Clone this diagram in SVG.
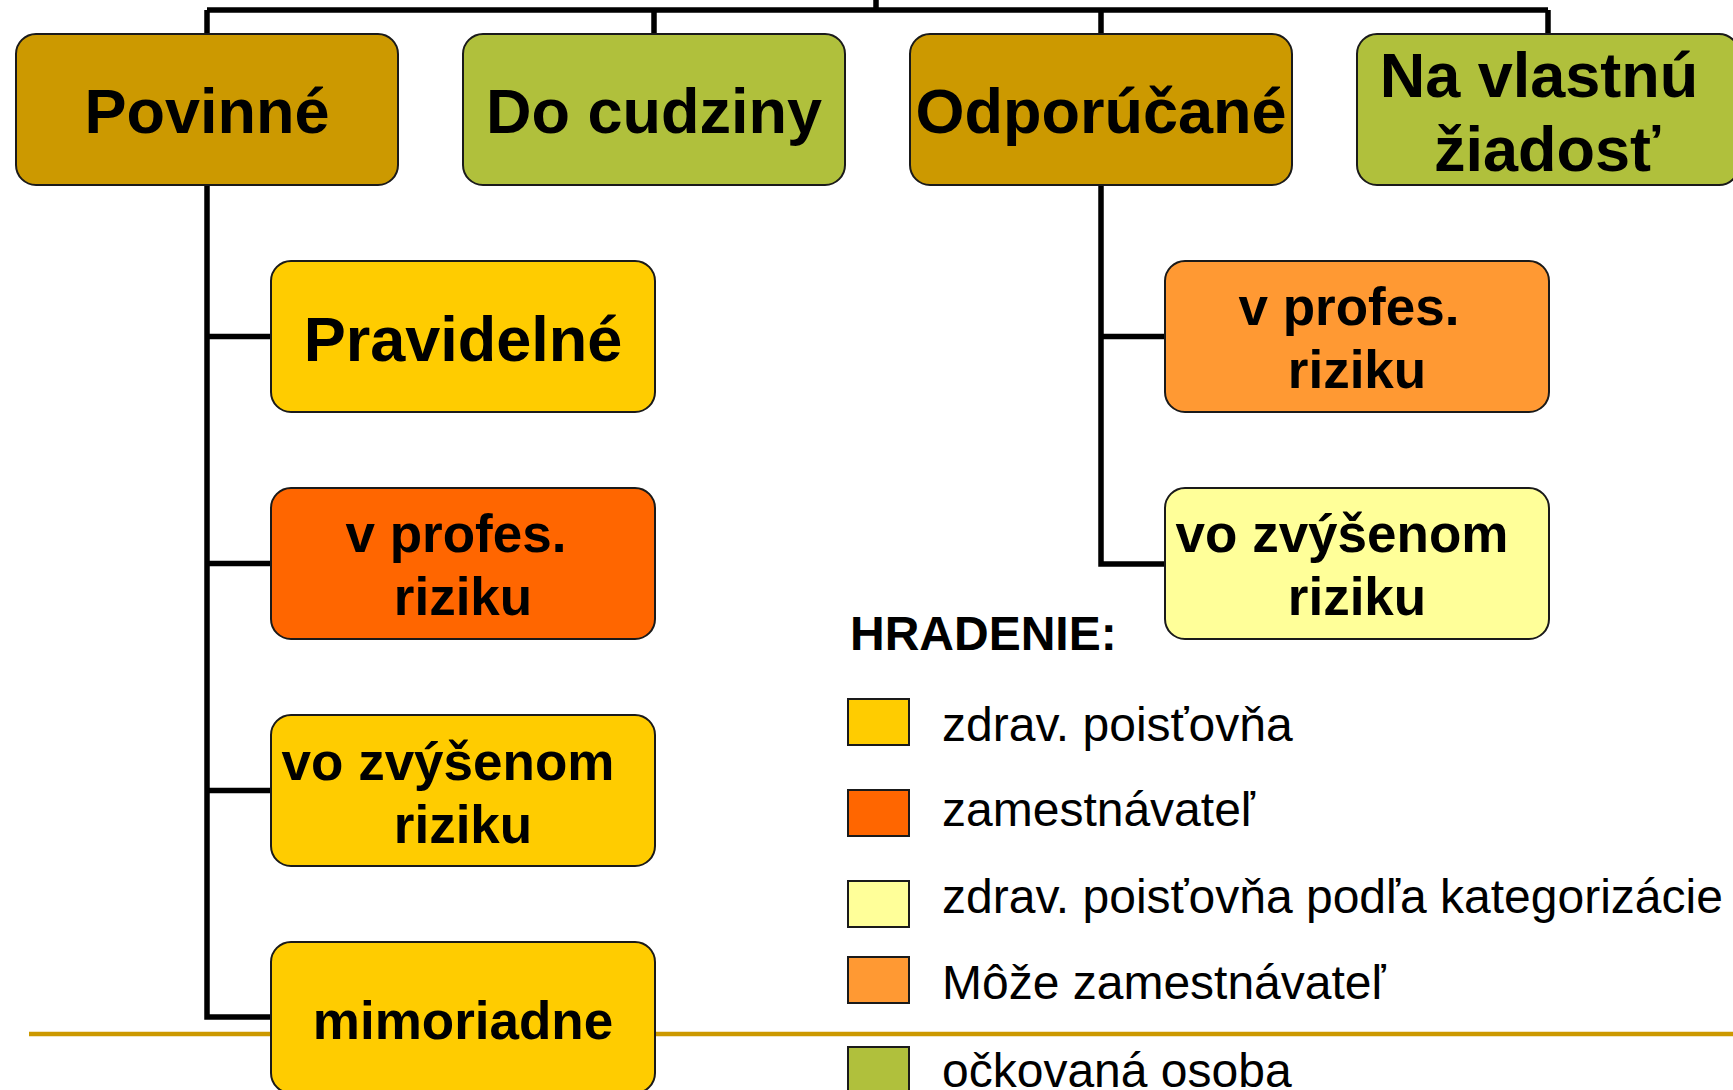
<svg xmlns="http://www.w3.org/2000/svg" width="1733" height="1090" viewBox="0 0 1733 1090">
<style>
.box{stroke:#1a1a1a;stroke-width:2}
.c{fill:none;stroke:#000;stroke-width:5.5;stroke-linejoin:miter;stroke-linecap:butt}
.t{font-family:"Liberation Sans",Arial,sans-serif;font-weight:bold;fill:#000;text-anchor:middle}
.big{font-size:63px}
.mid{font-size:53px}
.lg{font-family:"Liberation Sans",Arial,sans-serif;font-size:48px;fill:#000}
.sq{stroke:#1a1a1a;stroke-width:2}
</style>
<rect width="1733" height="1090" fill="#fff"/>
<line x1="29" y1="1034" x2="1733" y2="1034" stroke="#CC9900" stroke-width="4.5"/>
<g id="connectors">
<path class="c" d="M876 0V10M207 10H1548M207 10V34M654 10V34M1101 10V34M1548 10V34"/>
<path class="c" d="M207 185V1017H271M207 336.5H271M207 563.5H271M207 790.5H271"/>
<path class="c" d="M1101 185V564H1165M1101 336.5H1165"/>
</g>
<g id="povinne"><rect class="box" x="16" y="34" width="382" height="151" rx="20" fill="#CC9900"/><text class="t big" x="207" y="133">Povinné</text></g>
<g id="do-cudziny"><rect class="box" x="463" y="34" width="382" height="151" rx="20" fill="#B0C03C"/><text class="t big" x="654" y="133">Do cudziny</text></g>
<g id="odporucane"><rect class="box" x="910" y="34" width="382" height="151" rx="20" fill="#CC9900"/><text class="t big" x="1101" y="133">Odporúčané</text></g>
<g id="na-vlastnu"><rect class="box" x="1357" y="34" width="382" height="151" rx="20" fill="#B0C03C"/><text class="t big" x="1539" y="97">Na vlastnú</text><text class="t big" x="1547" y="171">žiadosť</text></g>
<g id="pravidelne"><rect class="box" x="271" y="261" width="384" height="151" rx="20" fill="#FFCC00"/><text class="t big" x="463" y="361">Pravidelné</text></g>
<g id="v-profes-l"><rect class="box" x="271" y="488" width="384" height="151" rx="20" fill="#FF6600"/><text class="t mid" x="456" y="552">v profes.</text><text class="t mid" x="463" y="615">riziku</text></g>
<g id="vo-zvysenom-l"><rect class="box" x="271" y="715" width="384" height="151" rx="20" fill="#FFCC00"/><text class="t mid" x="448" y="780">vo zvýšenom</text><text class="t mid" x="463" y="843">riziku</text></g>
<g id="mimoriadne"><rect class="box" x="271" y="942" width="384" height="151" rx="20" fill="#FFCC00"/><text class="t mid" x="463" y="1039">mimoriadne</text></g>
<g id="v-profes-r"><rect class="box" x="1165" y="261" width="384" height="151" rx="20" fill="#FF9933"/><text class="t mid" x="1349" y="325">v profes.</text><text class="t mid" x="1357" y="388">riziku</text></g>
<g id="vo-zvysenom-r"><rect class="box" x="1165" y="488" width="384" height="151" rx="20" fill="#FFFF99"/><text class="t mid" x="1342" y="552">vo zvýšenom</text><text class="t mid" x="1357" y="615">riziku</text></g>
<g id="legend">
<text x="850" y="650" style="font-family:'Liberation Sans',Arial,sans-serif;font-weight:bold;font-size:48px">HRADENIE:</text>
<rect class="sq" x="848" y="699" width="61" height="46" fill="#FFCC00"/><text class="lg" x="942" y="741">zdrav. poisťovňa</text>
<rect class="sq" x="848" y="790" width="61" height="46" fill="#FF6600"/><text class="lg" x="942" y="826">zamestnávateľ</text>
<rect class="sq" x="848" y="881" width="61" height="46" fill="#FFFF99"/><text class="lg" x="942" y="913">zdrav. poisťovňa podľa kategorizácie</text>
<rect class="sq" x="848" y="957" width="61" height="46" fill="#FF9933"/><text class="lg" x="942" y="999">Môže zamestnávateľ</text>
<rect class="sq" x="848" y="1047" width="61" height="46" fill="#B0C03C"/><text class="lg" x="942" y="1087">očkovaná osoba</text>
</g>
</svg>
